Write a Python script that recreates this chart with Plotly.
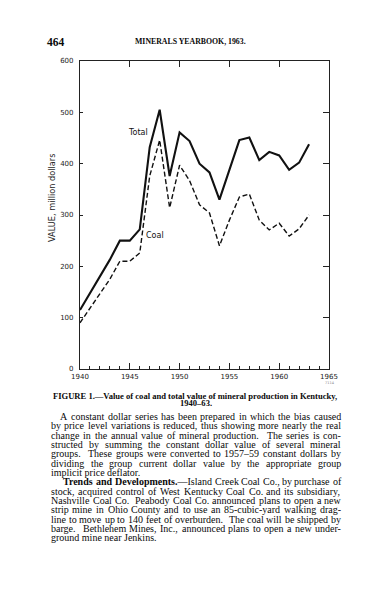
import plotly.graph_objects as go

# ---------------- data ----------------
years = list(range(1940, 1964))
total_values = [115, 148, 180, 213, 250, 250, 272, 432, 505, 376, 461, 444, 400, 383,
                330, 390, 446, 451, 407, 423, 416, 388, 402, 438]
coal_values = [90, 118, 147, 175, 210, 210, 226, 376, 446, 314, 397, 367, 320, 304,
               240, 290, 335, 341, 290, 271, 284, 259, 273, 300]
x_tick_vals = [1940, 1945, 1950, 1955, 1960, 1965]
y_tick_vals = [0, 100, 200, 300, 400, 500, 600]
series_names = ["Total", "Coal"]

header_page = "464"
header_title = "MINERALS YEARBOOK, 1963."
caption_lines = ["FIGURE 1.—Value of coal and total value of mineral production in Kentucky,",
                 "1940–63."]
body_lines = [
    "A constant dollar series has been prepared in which the bias caused",
    "by price level variations is reduced, thus showing more nearly the real",
    "change in the annual value of mineral production.  The series is con-",
    "structed by summing the constant dollar value of several mineral",
    "groups.  These groups were converted to 1957–59 constant dollars by",
    "dividing the group current dollar value by the appropriate group",
    "implicit price deflator.",
    "<b>Trends and Developments.</b>—Island Creek Coal Co., by purchase of",
    "stock, acquired control of West Kentucky Coal Co. and its subsidiary,",
    "Nashville Coal Co.  Peabody Coal Co. announced plans to open a new",
    "strip mine in Ohio County and to use an 85-cubic-yard walking drag-",
    "line to move up to 140 feet of overburden.  The coal will be shipped by",
    "barge.  Bethlehem Mines, Inc., announced plans to open a new under-",
    "ground mine near Jenkins.",
]
indents = {0: 60, 7: 63}
paragraph_ends = {6, 13}

# ---------------- geometry (px) ----------------
FIG_W, FIG_H = 368, 600
L, R, T, B = 80, 329, 61, 369
PW, PH = R - L, B - T


def px(xp):
    return (xp - L) / PW


def py(yp):
    return (B - yp) / PH


# Times-compatible widths (Liberation Serif), per 1000 em
REG = dict(zip("abcdefghijklmnopqrstuvwxyz",
               [444, 500, 444, 500, 444, 333, 500, 500, 278, 278, 500, 278, 778, 500, 500, 500,
                500, 333, 389, 278, 500, 500, 722, 500, 500, 444]))
REG.update(dict(zip("ABCDEFGHIJKLMNOPQRSTUVWXYZ",
                    [722, 667, 667, 722, 611, 556, 722, 722, 333, 389, 722, 611, 889, 722, 722, 556,
                     722, 667, 556, 611, 722, 722, 944, 722, 722, 611])))
BOLD = dict(zip("abcdefghijklmnopqrstuvwxyz",
                [500, 556, 444, 556, 444, 333, 500, 556, 278, 333, 556, 278, 833, 556, 500, 556,
                 556, 444, 389, 333, 556, 500, 722, 500, 500, 444]))
BOLD.update(dict(zip("ABCDEFGHIJKLMNOPQRSTUVWXYZ",
                     [722, 667, 722, 722, 667, 611, 778, 778, 389, 500, 778, 667, 944, 722, 778, 611,
                      778, 722, 556, 667, 722, 722, 1000, 722, 722, 667])))
for d in (REG, BOLD):
    for c in "0123456789":
        d[c] = 500
    d.update({" ": 250, ",": 250, ".": 250, "-": 333, "–": 500, "—": 1000, ":": 278, ";": 278,
              "(": 333, ")": 333, "'": 250})


def em_width(s, bold=False):
    w = 0.0
    b = bold
    i = 0
    while i < len(s):
        if s.startswith("<b>", i):
            b = True
            i += 3
            continue
        if s.startswith("</b>", i):
            b = bold
            i += 4
            continue
        w += (BOLD if b else REG).get(s[i], 500)
        i += 1
    return w / 1000.0


def tokenize(line):
    parts = line.split(" ")
    tokens = []
    gaps = []
    pending = 0
    open_b = False
    for p in parts:
        if p == "":
            pending += 1
            continue
        txt = p
        if open_b and not txt.startswith("<b>"):
            txt = "<b>" + txt
        if "<b>" in p and "</b>" not in p:
            open_b = True
            txt = txt + "</b>"
        elif open_b and "</b>" in p:
            open_b = False
        elif open_b:
            txt = txt + "</b>"
        gaps.append(pending + 1 if tokens else 0)
        tokens.append(txt)
        pending = 0
    return tokens, gaps


TEXT_L, TEXT_R = 51, 341
LINE0, LINE_STEP = 416.5, 9.33
SERIF = "Liberation Serif"
ink = "#0a0a0a"

fs_body = 10.0
for i, line in enumerate(body_lines):
    if i in paragraph_ends:
        continue
    toks, gaps = tokenize(line)
    x0 = indents.get(i, TEXT_L)
    natural = sum(em_width(t) for t in toks) + 0.25 * sum(gaps)
    fs_body = min(fs_body, (TEXT_R - x0) / natural)

annotations = []


def add_text(xp, yp, text, size, anchor="left", family=SERIF, color=ink, **kw):
    annotations.append(dict(x=px(xp), y=py(yp), xref="paper", yref="paper", text=text,
                            showarrow=False, xanchor=anchor, yanchor="middle", borderpad=0, borderwidth=0,
                            font=dict(family=family, size=size, color=color), **kw))


for i, line in enumerate(body_lines):
    yc = LINE0 + i * LINE_STEP
    x0 = indents.get(i, TEXT_L)
    toks, gaps = tokenize(line)
    if i in paragraph_ends:
        add_text(x0, yc, line.replace("  ", " "), fs_body)
        continue
    widths = [em_width(t) * fs_body for t in toks]
    unit = (TEXT_R - x0 - sum(widths)) / max(1, sum(gaps))
    xc = x0
    for t, w, g in zip(toks, widths, gaps):
        xc += g * unit
        add_text(xc, yc, t, fs_body)
        xc += w

# caption
fs_cap = 286 / em_width(caption_lines[0], bold=True)
add_text(195, 395.5, "<b>" + caption_lines[0] + "</b>", fs_cap, anchor="center")
add_text(196, 403.5, "<b>" + caption_lines[1] + "</b>", fs_cap, anchor="center")

# page header
add_text(47, 42.5, "<b>" + header_page + "</b>", 11.5)
fs_head = min(122 / em_width(header_title, bold=True), 7.8)
add_text(135, 42, "<b>" + header_title + "</b>", fs_head)

# chart labels
SANS = "DejaVu Sans"
add_text(52, 198, "VALUE, million dollars", 8.2, anchor="center", family=SANS, color="#222222", textangle=-90)
annotations.append(dict(x=1945.8, y=460, xref="x", yref="y", text=series_names[0], showarrow=False,
                        xanchor="center", yanchor="middle", font=dict(family=SANS, size=8, color="#111111")))
annotations.append(dict(x=1947.55, y=261, xref="x", yref="y", text=series_names[1], showarrow=False,
                        xanchor="center", yanchor="middle", font=dict(family=SANS, size=8, color="#111111")))
add_text(330, 382.5, "7114", 3.5, anchor="center", family=SANS, color="#888888")

fig = go.Figure()
fig.add_trace(go.Scatter(x=years, y=total_values, mode="lines", name=series_names[0],
                         line=dict(color="#111111", width=2.1), hoverinfo="skip"))
fig.add_trace(go.Scatter(x=years, y=coal_values, mode="lines", name=series_names[1],
                         line=dict(color="#111111", width=1.4, dash="5px,2.6px"), hoverinfo="skip"))
fig.add_trace(go.Scatter(x=[None], y=[None], xaxis="x2", yaxis="y2", showlegend=False, hoverinfo="skip"))

axis_col = "#222222"
fig.update_layout(
    width=FIG_W, height=FIG_H, autosize=False,
    margin=dict(l=L, r=FIG_W - R, t=T, b=FIG_H - B, pad=0),
    paper_bgcolor="white", plot_bgcolor="white",
    showlegend=False,
    annotations=annotations,
    xaxis=dict(range=[1940, 1965], tickvals=x_tick_vals, showgrid=False, zeroline=False,
               showline=True, linecolor=axis_col, linewidth=1.2,
               ticks="inside", ticklen=6, tickwidth=1, tickcolor=axis_col,
               tickfont=dict(family=SANS, size=7, color="#222222"),
               minor=dict(ticks="inside", ticklen=3, tickwidth=1, tickcolor=axis_col, dtick=1, tick0=1940,
                          showgrid=False)),
    yaxis=dict(range=[0, 600], tickvals=y_tick_vals, showgrid=False, zeroline=False,
               showline=True, linecolor=axis_col, linewidth=1.2,
               ticks="inside", ticklen=3, tickwidth=1, tickcolor=axis_col, ticklabelstandoff=4,
               tickfont=dict(family=SANS, size=7, color="#222222")),
    xaxis2=dict(overlaying="x", side="top", range=[1940, 1965], tickvals=x_tick_vals[1:-1],
                showticklabels=False, showgrid=False, zeroline=False, showline=True, linecolor=axis_col,
                linewidth=1.2, ticks="inside", ticklen=6, tickwidth=1, tickcolor=axis_col),
    yaxis2=dict(overlaying="y", side="right", range=[0, 600], tickvals=y_tick_vals[1:-1],
                showticklabels=False, showgrid=False, zeroline=False, showline=True, linecolor=axis_col,
                linewidth=1.2, ticks="inside", ticklen=6, tickwidth=1, tickcolor=axis_col),
)

fig.write_html("out.html", config={"displayModeBar": False})
